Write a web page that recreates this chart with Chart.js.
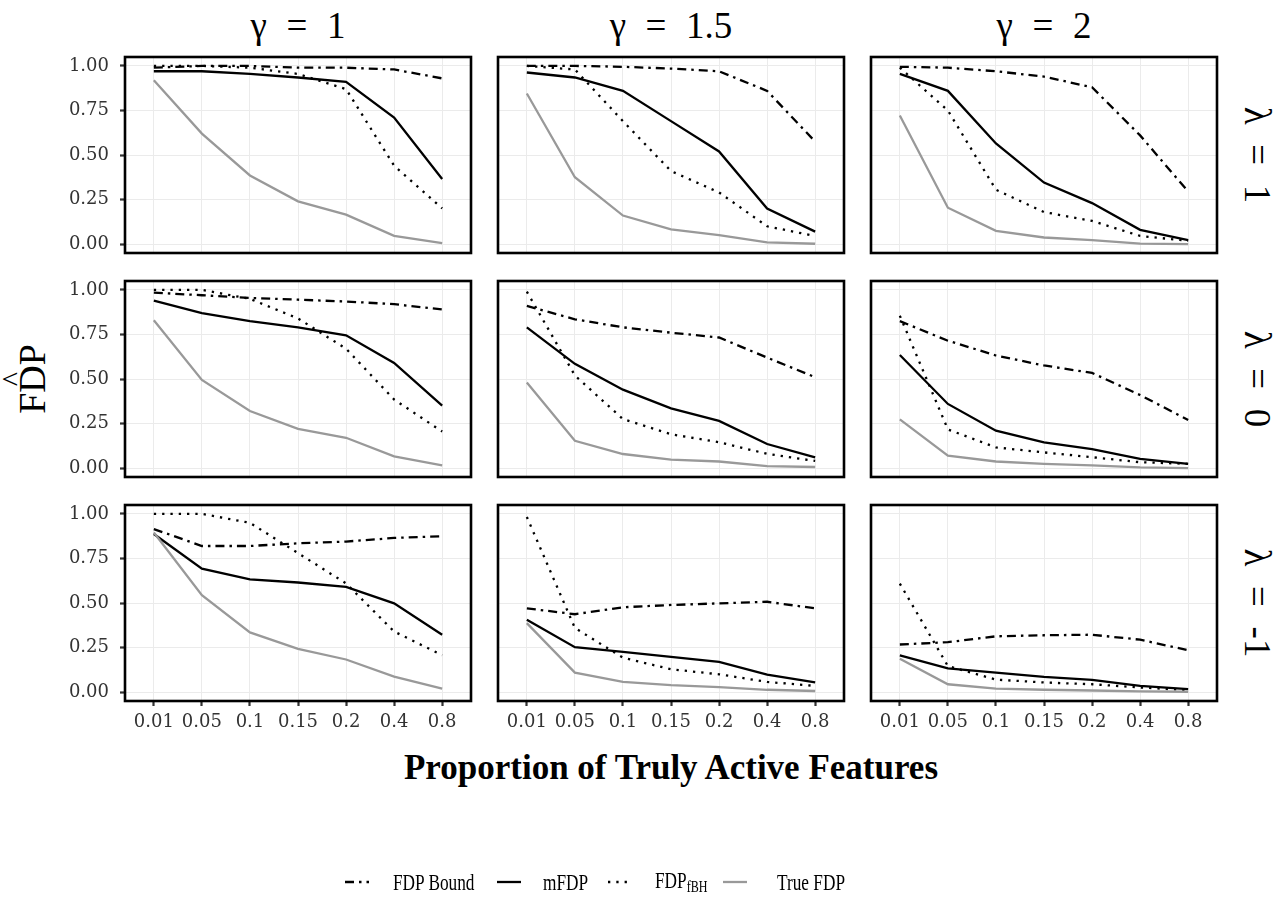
<!DOCTYPE html>
<html>
<head>
<meta charset="utf-8">
<script src="https://cdn.jsdelivr.net/npm/chart.js@4/dist/chart.umd.min.js"></script>
<style>
  html, body { margin: 0; padding: 0; background: #ffffff; }
  body { width: 1286px; height: 898px; position: relative; overflow: hidden; font-family: "Liberation Serif", serif; color: #000; }
  .t { position: absolute; white-space: nowrap; line-height: 1; }
  svg { position: absolute; left: 0; top: 0; }
</style>
</head>
<body>
<script>
// ---------------- data ----------------
const categories = ['0.01', '0.05', '0.1', '0.15', '0.2', '0.4', '0.8'];
const yTickValues = [0, 0.25, 0.5, 0.75, 1];
const gammaLabels = ['γ = 1', 'γ = 1.5', 'γ = 2'];
const lambdaLabels = ['λ = 1', 'λ = 0', 'λ = -1'];
const seriesNames = ['FDP Bound', 'mFDP', 'FDP_fBH', 'True FDP'];

// lambda = 1
const bound_L1_G1 = [0.99, 1.00, 1.00, 0.99, 0.99, 0.98, 0.93];
const mfdp_L1_G1  = [0.97, 0.97, 0.955, 0.935, 0.91, 0.71, 0.365];
const fbh_L1_G1   = [1.00, 1.00, 0.99, 0.955, 0.87, 0.44, 0.20];
const true_L1_G1  = [0.92, 0.62, 0.385, 0.24, 0.165, 0.046, 0.006];

const bound_L1_G15 = [1.00, 1.00, 0.995, 0.985, 0.97, 0.86, 0.575];
const mfdp_L1_G15  = [0.963, 0.935, 0.86, 0.69, 0.52, 0.20, 0.07];
const fbh_L1_G15   = [1.00, 0.98, 0.69, 0.41, 0.29, 0.10, 0.045];
const true_L1_G15  = [0.845, 0.375, 0.16, 0.083, 0.05, 0.01, 0.002];

const bound_L1_G2 = [0.995, 0.99, 0.97, 0.94, 0.88, 0.61, 0.295];
const mfdp_L1_G2  = [0.955, 0.86, 0.565, 0.345, 0.23, 0.08, 0.022];
const fbh_L1_G2   = [0.99, 0.75, 0.305, 0.18, 0.13, 0.046, 0.018];
const true_L1_G2  = [0.722, 0.204, 0.074, 0.037, 0.022, 0.003, 0.0];

// lambda = 0
const bound_L0_G1 = [0.985, 0.97, 0.955, 0.945, 0.935, 0.92, 0.89];
const mfdp_L0_G1  = [0.94, 0.87, 0.825, 0.79, 0.745, 0.59, 0.35];
const fbh_L0_G1   = [1.00, 1.00, 0.95, 0.84, 0.67, 0.385, 0.205];
const true_L0_G1  = [0.83, 0.495, 0.32, 0.22, 0.17, 0.066, 0.015];

const bound_L0_G15 = [0.91, 0.835, 0.79, 0.76, 0.733, 0.62, 0.51];
const mfdp_L0_G15  = [0.79, 0.585, 0.44, 0.335, 0.265, 0.135, 0.06];
const fbh_L0_G15   = [0.99, 0.52, 0.275, 0.19, 0.145, 0.08, 0.04];
const true_L0_G15  = [0.48, 0.153, 0.079, 0.048, 0.037, 0.011, 0.006];

const bound_L0_G2 = [0.825, 0.715, 0.632, 0.576, 0.534, 0.41, 0.27];
const mfdp_L0_G2  = [0.635, 0.36, 0.21, 0.144, 0.107, 0.052, 0.024];
const fbh_L0_G2   = [0.855, 0.217, 0.116, 0.088, 0.061, 0.033, 0.024];
const true_L0_G2  = [0.273, 0.07, 0.037, 0.024, 0.015, 0.004, 0.0];

// lambda = -1
const bound_Lm1_G1 = [0.915, 0.82, 0.82, 0.835, 0.845, 0.865, 0.875];
const mfdp_Lm1_G1  = [0.887, 0.693, 0.633, 0.615, 0.59, 0.498, 0.322];
const fbh_Lm1_G1   = [1.00, 1.00, 0.95, 0.78, 0.61, 0.34, 0.207];
const true_Lm1_G1  = [0.896, 0.544, 0.335, 0.243, 0.183, 0.087, 0.02];

const bound_Lm1_G15 = [0.47, 0.437, 0.476, 0.489, 0.498, 0.507, 0.47];
const mfdp_Lm1_G15  = [0.406, 0.252, 0.226, 0.198, 0.17, 0.098, 0.054];
const fbh_Lm1_G15   = [0.983, 0.36, 0.193, 0.128, 0.10, 0.057, 0.035];
const true_Lm1_G15  = [0.387, 0.109, 0.057, 0.039, 0.028, 0.013, 0.006];

const bound_Lm1_G2 = [0.267, 0.28, 0.313, 0.319, 0.322, 0.294, 0.235];
const mfdp_Lm1_G2  = [0.206, 0.133, 0.109, 0.085, 0.069, 0.035, 0.017];
const fbh_Lm1_G2   = [0.609, 0.146, 0.07, 0.054, 0.044, 0.026, 0.011];
const true_Lm1_G2  = [0.187, 0.044, 0.02, 0.013, 0.009, 0.004, 0.002];

const grid = [
  [[bound_L1_G1, mfdp_L1_G1, fbh_L1_G1, true_L1_G1],
   [bound_L1_G15, mfdp_L1_G15, fbh_L1_G15, true_L1_G15],
   [bound_L1_G2, mfdp_L1_G2, fbh_L1_G2, true_L1_G2]],
  [[bound_L0_G1, mfdp_L0_G1, fbh_L0_G1, true_L0_G1],
   [bound_L0_G15, mfdp_L0_G15, fbh_L0_G15, true_L0_G15],
   [bound_L0_G2, mfdp_L0_G2, fbh_L0_G2, true_L0_G2]],
  [[bound_Lm1_G1, mfdp_Lm1_G1, fbh_Lm1_G1, true_Lm1_G1],
   [bound_Lm1_G15, mfdp_Lm1_G15, fbh_Lm1_G15, true_Lm1_G15],
   [bound_Lm1_G2, mfdp_Lm1_G2, fbh_Lm1_G2, true_Lm1_G2]]
];

// ---------------- styles & layout ----------------
const STYLES = [
  { color: '#000000', dash: [9, 5, 2.5, 5] },
  { color: '#000000', dash: [] },
  { color: '#000000', dash: [2.3, 6] },
  { color: '#999999', dash: [] }
];
const PANEL_LEFT = [125, 498, 871];
const PANEL_TOP = [57, 281, 505];
const PW = 346, PH = 196;
const TICK_FONT = { family: 'DejaVu Serif', size: 18 };
const TICK_COLOR = '#333333';

const framePlugin = {
  id: 'frame',
  afterDraw(chart) {
    const a = chart.chartArea, ctx = chart.ctx;
    ctx.save();
    ctx.strokeStyle = '#000';
    ctx.lineWidth = 2.6;
    ctx.strokeRect(a.left, a.top, a.right - a.left, a.bottom - a.top);
    ctx.restore();
  }
};

function buildPanel(r, c) {
  const showY = c === 0, showX = r === 2;
  const YW = showY ? 58 : 0, XH = showX ? 38 : 0, P = 3;
  const w = PW + YW + 2 * P, h = PH + XH + 2 * P;
  const cv = document.createElement('canvas');
  cv.width = w; cv.height = h;
  cv.style.cssText = `position:absolute;left:${PANEL_LEFT[c] - YW - P}px;top:${PANEL_TOP[r] - P}px;width:${w}px;height:${h}px;`;
  document.body.appendChild(cv);

  const datasets = grid[r][c].map((vals, k) => ({
    label: seriesNames[k],
    data: vals.map((v, i) => ({ x: i, y: v })),
    borderColor: STYLES[k].color,
    borderDash: STYLES[k].dash,
    borderWidth: 2.3,
    pointRadius: 0,
    tension: 0,
    fill: false
  })).reverse();

  new Chart(cv, {
    type: 'line',
    data: { datasets },
    options: {
      responsive: false,
      animation: false,
      devicePixelRatio: 1,
      events: [],
      layout: { padding: P },
      plugins: { legend: { display: false }, tooltip: { enabled: false } },
      scales: {
        x: {
          type: 'linear', min: -0.6, max: 6.6,
          afterBuildTicks: s => { s.ticks = categories.map((_, i) => ({ value: i })); },
          afterFit: s => { s.height = XH; s.paddingLeft = 0; s.paddingRight = 0; },
          grid: { color: '#ebebeb', lineWidth: 1, drawTicks: showX, tickLength: 5, tickColor: '#333333', tickWidth: 2.2 },
          border: { display: false },
          ticks: { display: showX, callback: v => categories[v], font: TICK_FONT, color: TICK_COLOR, padding: 6, maxRotation: 0, autoSkip: false }
        },
        y: {
          type: 'linear', min: -0.05, max: 1.05,
          afterBuildTicks: s => { s.ticks = yTickValues.map(v => ({ value: v })); },
          afterFit: s => { s.width = YW; s.paddingTop = 0; s.paddingBottom = 0; },
          grid: { color: '#ebebeb', lineWidth: 1, drawTicks: showY, tickLength: 5, tickColor: '#333333', tickWidth: 2.2 },
          border: { display: false },
          ticks: { display: showY, callback: v => v.toFixed(2), font: TICK_FONT, color: TICK_COLOR, padding: 11 }
        }
      }
    },
    plugins: [framePlugin]
  });
}

for (let r = 0; r < 3; r++) for (let c = 0; c < 3; c++) buildPanel(r, c);

// ---------------- text ----------------
function addText(html, x, y, css) {
  const d = document.createElement('div');
  d.className = 't';
  d.innerHTML = html;
  d.style.cssText += `left:${x}px;top:${y}px;` + css;
  document.body.appendChild(d);
  return d;
}
gammaLabels.forEach((g, c) => {
  addText(g, PANEL_LEFT[c] + PW / 2, 25, 'font-size:37px;word-spacing:0.28em;transform:translate(-50%,-50%);');
});
lambdaLabels.forEach((l, r) => {
  addText(l, 1257, PANEL_TOP[r] + PH / 2, 'font-size:37px;word-spacing:0.28em;transform:translate(-50%,-50%) rotate(90deg);');
});
// y title with hat
addText('F<span style="position:relative;display:inline-block;">D<span style="position:absolute;left:50%;top:-0.5em;transform:translateX(-50%);font-size:0.8em;">^</span></span>P',
  32, (PANEL_TOP[0] + PANEL_TOP[2] + PH) / 2, 'font-size:38px;transform:translate(-50%,-50%) rotate(-90deg);');
// x title
addText('Proportion of Truly Active Features', (PANEL_LEFT[0] + PANEL_LEFT[2] + PW) / 2, 767,
  'font-size:35px;font-weight:bold;transform:translate(-50%,-50%);');

// ---------------- legend ----------------
const LEG_Y = 882;
const legendKeys = [345, 497, 608, 723];
const legendTexts = [393, 543, 655, 777];
const legendHtml = ['FDP Bound', 'mFDP', 'FDP<sub style="font-size:0.7em;vertical-align:-0.25em;">fBH</sub>', 'True FDP'];
const svgNS = 'http://www.w3.org/2000/svg';
const svg = document.createElementNS(svgNS, 'svg');
svg.setAttribute('width', 1286); svg.setAttribute('height', 898);
legendKeys.forEach((x, k) => {
  const ln = document.createElementNS(svgNS, 'line');
  ln.setAttribute('x1', x); ln.setAttribute('x2', x + 24);
  ln.setAttribute('y1', LEG_Y); ln.setAttribute('y2', LEG_Y);
  ln.setAttribute('stroke', STYLES[k].color);
  ln.setAttribute('stroke-width', 2.3);
  if (STYLES[k].dash.length) ln.setAttribute('stroke-dasharray', STYLES[k].dash.join(' '));
  svg.appendChild(ln);
});
document.body.appendChild(svg);
legendTexts.forEach((x, k) => {
  addText(legendHtml[k], x, LEG_Y, 'font-size:24px;transform:translate(0,-50%) scaleX(0.72);transform-origin:0 50%;');
});
</script>
</body>
</html>
